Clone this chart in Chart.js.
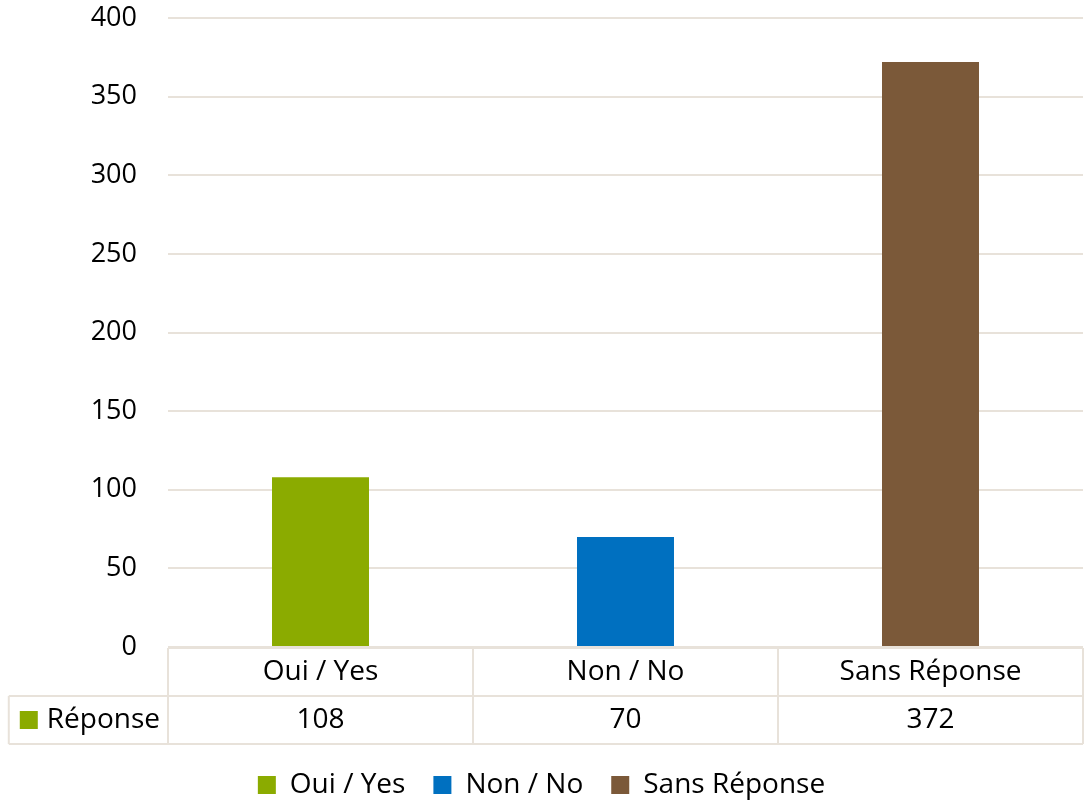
<!DOCTYPE html>
<html lang="fr">
<head>
<meta charset="UTF-8"/>
<title>Réponse</title>
<script src="https://cdn.jsdelivr.net/npm/chart.js"></script>
<style>
  html, body { margin: 0; padding: 0; background: #fff; }
  .wrap { width: 1084px; height: 806px; }
</style>
</head>
<body>
<div class="wrap"><canvas id="chart"></canvas></div>
<script>
const categories = ["Oui / Yes", "Non / No", "Sans Réponse"];
const seriesName = "Réponse";
const values = [108, 70, 372];
const barColors = ["#8bab00", "#0070c0", "#7b5939"];
const yMin = 0, yMax = 400, yStep = 50;

const FONT = "'Open Sans', sans-serif";
const LINE = "#e8e2da";
const ROW_H = 48;

// Excel-like data table drawn under the x axis
const dataTable = {
  id: "dataTable",
  afterDraw(chart) {
    const { ctx, chartArea } = chart;
    const xs = chart.scales.x;
    const n = categories.length;
    const colW = (xs.right - xs.left) / n;
    const y0 = chartArea.bottom + 1, y1 = y0 + ROW_H, y2 = y1 + ROW_H;
    ctx.save();
    ctx.font = "28px " + FONT;
    const tw = ctx.measureText(seriesName).width;
    const key = 18;
    const textX = xs.left - 8;
    const keyX = textX - tw - 9 - key;
    const cellL = keyX - 11;

    ctx.strokeStyle = LINE;
    ctx.lineWidth = 2;
    ctx.beginPath();
    ctx.moveTo(xs.left, y0); ctx.lineTo(xs.right, y0);
    ctx.moveTo(cellL, y1); ctx.lineTo(xs.right, y1);
    ctx.moveTo(cellL, y2); ctx.lineTo(xs.right, y2);
    for (let i = 0; i <= n; i++) {
      const x = xs.left + i * colW;
      ctx.moveTo(x, y0); ctx.lineTo(x, y2);
    }
    ctx.moveTo(cellL, y1); ctx.lineTo(cellL, y2);
    ctx.stroke();

    const cy = (y1 + y2) / 2;
    ctx.fillStyle = barColors[0];
    ctx.fillRect(keyX, cy - key / 2, key, key);
    ctx.fillStyle = "#000";
    ctx.textBaseline = "middle";
    ctx.textAlign = "right";
    ctx.fillText(seriesName, textX, cy);
    ctx.textAlign = "center";
    values.forEach((v, i) => ctx.fillText(String(v), xs.getPixelForValue(i), cy));
    ctx.restore();
  }
};

new Chart(document.getElementById("chart"), {
  type: "bar",
  data: {
    labels: categories,
    datasets: [{
      label: seriesName,
      data: values,
      backgroundColor: barColors,
      borderWidth: 0,
      categoryPercentage: 1,
      barPercentage: 0.318
    }]
  },
  options: {
    responsive: true,
    maintainAspectRatio: false,
    animation: false,
    layout: { padding: { top: 18, right: 1, bottom: -3, left: 0 } },
    plugins: {
      tooltip: { enabled: false },
      legend: {
        position: "bottom",
        labels: {
          font: { family: FONT, size: 28 },
          color: "#000",
          boxWidth: 18,
          boxHeight: 18,
          padding: 28,
          generateLabels: () => categories.map((c, i) => ({
            text: c,
            fillStyle: barColors[i],
            strokeStyle: barColors[i],
            lineWidth: 0,
            fontColor: "#000",
            index: i
          }))
        }
      }
    },
    scales: {
      x: {
        grid: { display: false, drawTicks: false },
        border: { display: false },
        ticks: { font: { family: FONT, size: 28 }, color: "#000", padding: 8 },
        afterFit: s => { s.height = 96; }
      },
      y: {
        min: yMin,
        max: yMax,
        grid: { color: LINE, lineWidth: 2, drawTicks: false },
        border: { display: false },
        ticks: { stepSize: yStep, font: { family: FONT, size: 27 }, color: "#000", padding: 31 },
        afterFit: s => { s.width = 168; s.paddingTop = 0; s.paddingBottom = 0; }
      }
    }
  },
  plugins: [dataTable]
});
</script>
</body>
</html>
